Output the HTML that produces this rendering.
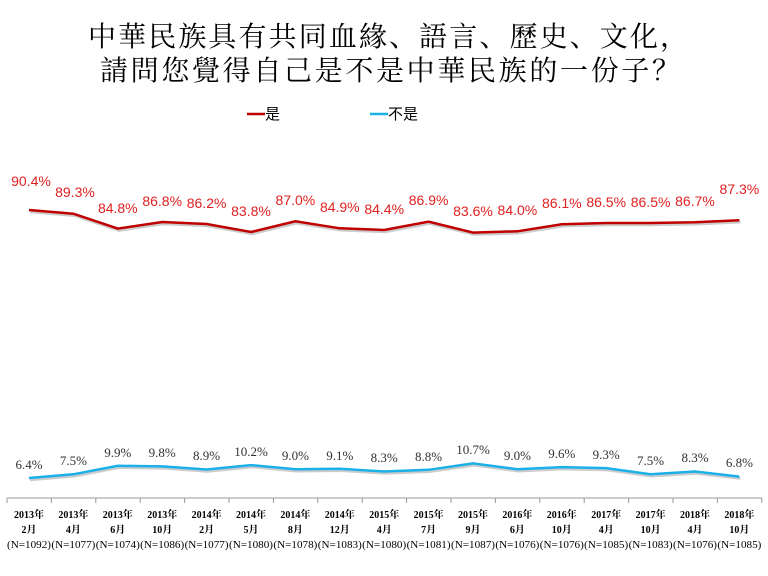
<!DOCTYPE html>
<html><head><meta charset="utf-8"><style>
html,body{margin:0;padding:0;background:#fff;}
svg{display:block;}
</style></head><body>
<svg width="768" height="576" xmlns="http://www.w3.org/2000/svg">
<g font-family="'Liberation Serif','Noto Serif CJK SC',serif" fill="#000">
<text x="388" y="46" font-size="28" text-anchor="middle" textLength="600" lengthAdjust="spacing">中華民族具有共同血緣、語言、歷史、文化，</text>
<text x="390" y="80" font-size="28" text-anchor="middle" textLength="580" lengthAdjust="spacing">請問您覺得自己是不是中華民族的一份子？</text>
</g>
<g font-family="'Liberation Sans','Noto Sans CJK TC',sans-serif" font-size="15">
<line x1="247" y1="114" x2="265" y2="114" stroke="#c00000" stroke-width="2.5"/>
<text x="265" y="119">是</text>
<line x1="370" y1="114" x2="388" y2="114" stroke="#1ab0e8" stroke-width="2.5"/>
<text x="388" y="119">不是</text>
</g>

<g fill="none" stroke-width="2.5">
<polyline stroke="#ccc" transform="translate(1,2)" points="29,210 73.4,213.7 117.8,228.6 162.2,222 206.6,224 251,232 295.4,221.3 339.8,228.3 384.2,230 428.6,221.7 473,232.6 517.4,231.3 561.8,224.3 606.2,223 650.6,223 695,222.3 739.4,220.3"/>
<polyline stroke="#ccc" transform="translate(1,2)" points="29,478 73.4,474.3 117.8,465.8 162.2,466.4 206.6,469.5 251,465.1 295.4,469.2 339.8,468.8 384.2,471.5 428.6,469.8 473,463.4 517.4,469.2 561.8,467.1 606.2,468.1 650.6,474.3 695,471.5 739.4,476.6"/>
<polyline stroke="#c00000" points="29,210 73.4,213.7 117.8,228.6 162.2,222 206.6,224 251,232 295.4,221.3 339.8,228.3 384.2,230 428.6,221.7 473,232.6 517.4,231.3 561.8,224.3 606.2,223 650.6,223 695,222.3 739.4,220.3"/>
<polyline stroke="#1ab0e8" points="29,478 73.4,474.3 117.8,465.8 162.2,466.4 206.6,469.5 251,465.1 295.4,469.2 339.8,468.8 384.2,471.5 428.6,469.8 473,463.4 517.4,469.2 561.8,467.1 606.2,468.1 650.6,474.3 695,471.5 739.4,476.6"/>
</g>

<g font-family="'Liberation Sans',sans-serif" font-size="14" fill="#e02020" text-anchor="middle">
<text x="31" y="186">90.4%</text>
<text x="75" y="197">89.3%</text>
<text x="117.8" y="213">84.8%</text>
<text x="162.2" y="206">86.8%</text>
<text x="206.6" y="208">86.2%</text>
<text x="251" y="216">83.8%</text>
<text x="295.4" y="205">87.0%</text>
<text x="339.8" y="212">84.9%</text>
<text x="384.2" y="214">84.4%</text>
<text x="428.6" y="205">86.9%</text>
<text x="473" y="216">83.6%</text>
<text x="517.4" y="215">84.0%</text>
<text x="561.8" y="208">86.1%</text>
<text x="606.2" y="207">86.5%</text>
<text x="650.6" y="207">86.5%</text>
<text x="695" y="206">86.7%</text>
<text x="739.4" y="194">87.3%</text>
</g>

<g font-family="'Liberation Serif',serif" font-size="13" fill="#333" text-anchor="middle">
<text x="29" y="469">6.4%</text>
<text x="73.4" y="465">7.5%</text>
<text x="117.8" y="457">9.9%</text>
<text x="162.2" y="457">9.8%</text>
<text x="206.6" y="460">8.9%</text>
<text x="251" y="456">10.2%</text>
<text x="295.4" y="460">9.0%</text>
<text x="339.8" y="460">9.1%</text>
<text x="384.2" y="462">8.3%</text>
<text x="428.6" y="461">8.8%</text>
<text x="473" y="454">10.7%</text>
<text x="517.4" y="460">9.0%</text>
<text x="561.8" y="458">9.6%</text>
<text x="606.2" y="459">9.3%</text>
<text x="650.6" y="465">7.5%</text>
<text x="695" y="462">8.3%</text>
<text x="739.4" y="467">6.8%</text>
</g>

<g stroke="#999" stroke-width="1">
<line x1="7" y1="498" x2="762" y2="498"/>
<line x1="7" y1="498" x2="7" y2="503"/><line x1="51.4" y1="498" x2="51.4" y2="503"/><line x1="95.8" y1="498" x2="95.8" y2="503"/><line x1="140.2" y1="498" x2="140.2" y2="503"/><line x1="184.6" y1="498" x2="184.6" y2="503"/><line x1="229" y1="498" x2="229" y2="503"/><line x1="273.4" y1="498" x2="273.4" y2="503"/><line x1="317.8" y1="498" x2="317.8" y2="503"/><line x1="362.2" y1="498" x2="362.2" y2="503"/><line x1="406.6" y1="498" x2="406.6" y2="503"/><line x1="451" y1="498" x2="451" y2="503"/><line x1="495.4" y1="498" x2="495.4" y2="503"/><line x1="539.8" y1="498" x2="539.8" y2="503"/><line x1="584.2" y1="498" x2="584.2" y2="503"/><line x1="628.6" y1="498" x2="628.6" y2="503"/><line x1="673" y1="498" x2="673" y2="503"/><line x1="717.4" y1="498" x2="717.4" y2="503"/><line x1="761.8" y1="498" x2="761.8" y2="503"/>
</g>

<g font-family="'Liberation Serif','Noto Serif CJK SC',serif" font-size="10" font-weight="bold" text-anchor="middle">
<text x="29" y="518">2013年</text><text x="73.4" y="518">2013年</text><text x="117.8" y="518">2013年</text><text x="162.2" y="518">2013年</text><text x="206.6" y="518">2014年</text><text x="251" y="518">2014年</text><text x="295.4" y="518">2014年</text><text x="339.8" y="518">2014年</text><text x="384.2" y="518">2015年</text><text x="428.6" y="518">2015年</text><text x="473" y="518">2015年</text><text x="517.4" y="518">2016年</text><text x="561.8" y="518">2016年</text><text x="606.2" y="518">2017年</text><text x="650.6" y="518">2017年</text><text x="695" y="518">2018年</text><text x="739.4" y="518">2018年</text>
<text x="29" y="533">2月</text><text x="73.4" y="533">4月</text><text x="117.8" y="533">6月</text><text x="162.2" y="533">10月</text><text x="206.6" y="533">2月</text><text x="251" y="533">5月</text><text x="295.4" y="533">8月</text><text x="339.8" y="533">12月</text><text x="384.2" y="533">4月</text><text x="428.6" y="533">7月</text><text x="473" y="533">9月</text><text x="517.4" y="533">6月</text><text x="561.8" y="533">10月</text><text x="606.2" y="533">4月</text><text x="650.6" y="533">10月</text><text x="695" y="533">4月</text><text x="739.4" y="533">10月</text>
</g>
<g font-family="'Liberation Serif',serif" font-size="10" text-anchor="middle">
<text x="29" y="548" textLength="44" lengthAdjust="spacingAndGlyphs">(N=1092)</text>
<text x="73.4" y="548" textLength="44" lengthAdjust="spacingAndGlyphs">(N=1077)</text>
<text x="117.8" y="548" textLength="44" lengthAdjust="spacingAndGlyphs">(N=1074)</text>
<text x="162.2" y="548" textLength="44" lengthAdjust="spacingAndGlyphs">(N=1086)</text>
<text x="206.6" y="548" textLength="44" lengthAdjust="spacingAndGlyphs">(N=1077)</text>
<text x="251" y="548" textLength="44" lengthAdjust="spacingAndGlyphs">(N=1080)</text>
<text x="295.4" y="548" textLength="44" lengthAdjust="spacingAndGlyphs">(N=1078)</text>
<text x="339.8" y="548" textLength="44" lengthAdjust="spacingAndGlyphs">(N=1083)</text>
<text x="384.2" y="548" textLength="44" lengthAdjust="spacingAndGlyphs">(N=1080)</text>
<text x="428.6" y="548" textLength="44" lengthAdjust="spacingAndGlyphs">(N=1081)</text>
<text x="473" y="548" textLength="44" lengthAdjust="spacingAndGlyphs">(N=1087)</text>
<text x="517.4" y="548" textLength="44" lengthAdjust="spacingAndGlyphs">(N=1076)</text>
<text x="561.8" y="548" textLength="44" lengthAdjust="spacingAndGlyphs">(N=1076)</text>
<text x="606.2" y="548" textLength="44" lengthAdjust="spacingAndGlyphs">(N=1085)</text>
<text x="650.6" y="548" textLength="44" lengthAdjust="spacingAndGlyphs">(N=1083)</text>
<text x="695" y="548" textLength="44" lengthAdjust="spacingAndGlyphs">(N=1076)</text>
<text x="739.4" y="548" textLength="44" lengthAdjust="spacingAndGlyphs">(N=1085)</text>
</g>
</svg>
</body></html>
